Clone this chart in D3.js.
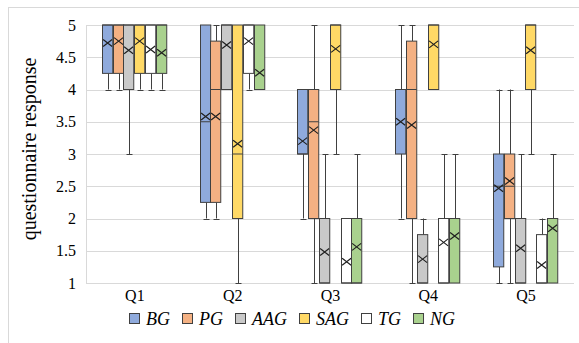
<!DOCTYPE html>
<html>
<head>
<meta charset="utf-8">
<script src="https://cdn.jsdelivr.net/npm/d3@7"></script>
<style>
  body { margin: 0; background: #fff; }
</style>
</head>
<body>
<div class="chart"></div>
<script>
var svgWidth = 579;
var svgHeight = 343;

// categories and series
var questions = ["Q1", "Q2", "Q3", "Q4", "Q5"];
var groups = ["BG", "PG", "AAG", "SAG", "TG", "NG"];
var colors = ["#8faadc", "#f4b183", "#c9c9c9", "#ffd966", "#ffffff", "#a9d18e"];
var yTicks = [1, 1.5, 2, 2.5, 3, 3.5, 4, 4.5, 5];

// per group: [min, q1, median, q3, max, mean] for Q1..Q5
var BG  = [[4, 4.25, 5, 5, 5, 4.72], [2, 2.25, 3.5, 5, 5, 3.58], [2, 3, 3, 4, 4, 3.2],  [2, 3, 4, 4, 5, 3.5],   [1, 1.25, 2.5, 3, 4, 2.47]];
var PG  = [[4, 4.25, 5, 5, 5, 4.75], [2, 2.25, 4, 4.75, 5, 3.58], [1, 2, 3.5, 4, 5, 3.37], [1, 2, 4, 4.75, 5, 3.45], [1, 2, 2.5, 3, 4, 2.58]];
var AAG = [[3, 4, 5, 5, 5, 4.61],    [4, 4, 5, 5, 5, 4.69],    [1, 1, 1, 2, 3, 1.48],   [1, 1, 1, 1.75, 2, 1.37], [1, 1, 1, 2, 3, 1.54]];
var SAG = [[4, 4.25, 5, 5, 5, 4.75], [1, 2, 3, 5, 5, 3.16],    [3, 4, 5, 5, 5, 4.63],   [4, 4, 5, 5, 5, 4.7],    [3, 4, 5, 5, 5, 4.61]];
var TG  = [[4, 4.25, 5, 5, 5, 4.62], [4, 4.25, 5, 5, 5, 4.75], [1, 1, 1, 2, 2, 1.33],   [1, 1, 1, 2, 3, 1.63],   [1, 1, 1, 1.75, 2, 1.28]];
var NG  = [[4, 4.25, 5, 5, 5, 4.57], [4, 4, 4, 5, 5, 4.26],    [1, 1, 1, 2, 3, 1.56],   [1, 1, 2, 2, 3, 1.73],   [1, 1, 2, 2, 3, 1.85]];
var seriesData = [BG, PG, AAG, SAG, TG, NG];

var svg = d3.select(".chart").append("svg")
  .attr("width", svgWidth)
  .attr("height", svgHeight)
  .attr("font-family", "'Liberation Serif', Tinos, 'Times New Roman', Times, serif");

// outer chart border
svg.append("rect")
  .attr("x", 8.5).attr("y", 7.5)
  .attr("width", 600).attr("height", 400)
  .attr("fill", "none")
  .attr("stroke", "#d9d9d9");

var plot = { left: 85, right: 574, top: 25, bottom: 283 };

var x = d3.scaleBand().domain(questions).range([plot.left, plot.right]);
var xInner = d3.scaleBand().domain(groups).range([-32.1, 32.1]).paddingInner(0.05);
var y = d3.scaleLinear().domain([1, 5]).range([plot.bottom, plot.top]);

// gridlines
svg.append("g")
  .selectAll("line")
  .data(yTicks)
  .enter()
  .append("line")
  .attr("x1", plot.left + 1).attr("x2", plot.right)
  .attr("y1", d => Math.round(y(d)) + 0.5)
  .attr("y2", d => Math.round(y(d)) + 0.5)
  .attr("stroke", "#d9d9d9");

// left axis line
svg.append("line")
  .attr("x1", plot.left + 1.5).attr("x2", plot.left + 1.5)
  .attr("y1", plot.top).attr("y2", plot.bottom + 0.5)
  .attr("stroke", "#d9d9d9");

// y tick labels
svg.append("g")
  .selectAll("text")
  .data(yTicks)
  .enter()
  .append("text")
  .attr("x", 76)
  .attr("y", d => y(d))
  .attr("dy", "0.35em")
  .attr("text-anchor", "end")
  .style("font-size", "16px")
  .text(d => d);

// x labels
svg.append("g")
  .selectAll("text")
  .data(questions)
  .enter()
  .append("text")
  .attr("x", d => x(d) + x.bandwidth() / 2 + 1)
  .attr("y", 301)
  .attr("text-anchor", "middle")
  .style("font-size", "16px")
  .text(d => d);

// y title
svg.append("text")
  .attr("transform", "translate(36, 149) rotate(-90)")
  .attr("text-anchor", "middle")
  .style("font-size", "20px")
  .text("questionnaire response");

// boxes
var stroke = "#404040";
var bw = xInner.bandwidth();
var capW = 3;

groups.forEach(function(g, gi) {
  var grp = svg.append("g");
  questions.forEach(function(q, qi) {
    var s = seriesData[gi][qi];
    var x0 = Math.round(x(q) + x.bandwidth() / 2 + xInner(g)) + 0.5;
    var cx = x0 + bw / 2;
    var cxl = Math.round(cx) + 0.5;

    // whiskers
    [[s[0], s[1]], [s[3], s[4]]].forEach(function(w) {
      if (w[0] === w[1]) return;
      grp.append("line")
        .attr("x1", cxl).attr("x2", cxl)
        .attr("y1", y(w[0])).attr("y2", y(w[1]))
        .attr("stroke", stroke);
    });
    [s[0], s[4]].forEach(function(v, i) {
      if (v === s[i === 0 ? 1 : 3]) return;
      grp.append("line")
        .attr("x1", cxl - capW).attr("x2", cxl + capW)
        .attr("y1", Math.round(y(v)) + 0.5).attr("y2", Math.round(y(v)) + 0.5)
        .attr("stroke", stroke);
    });

    // box
    grp.append("rect")
      .attr("x", x0)
      .attr("y", y(s[3]))
      .attr("width", bw)
      .attr("height", y(s[1]) - y(s[3]))
      .attr("fill", colors[gi])
      .attr("stroke", stroke);

    // median
    grp.append("line")
      .attr("x1", x0).attr("x2", x0 + bw)
      .attr("y1", y(s[2])).attr("y2", y(s[2]))
      .attr("stroke", stroke);

    // mean marker
    var my = y(s[5]);
    grp.append("path")
      .attr("d", `M${cx - 4.5},${my - 3.5}L${cx + 4.5},${my + 3.5}M${cx - 4.5},${my + 3.5}L${cx + 4.5},${my - 3.5}`)
      .attr("stroke", "#202020")
      .attr("stroke-width", 1.2)
      .attr("fill", "none");
  });
});

// legend
var legend = svg.append("g");
var lx = 129;
groups.forEach(function(g, gi) {
  legend.append("rect")
    .attr("x", lx + 0.5).attr("y", 313.5)
    .attr("width", 10).attr("height", 10)
    .attr("fill", colors[gi])
    .attr("stroke", stroke);
  var t = legend.append("text")
    .attr("x", lx + 17)
    .attr("y", 319)
    .attr("dy", "0.35em")
    .style("font-size", "18px")
    .style("font-style", "italic")
    .text(g);
  lx = lx + 17 + t.node().getComputedTextLength() + 12;
});
</script>
</body>
</html>
